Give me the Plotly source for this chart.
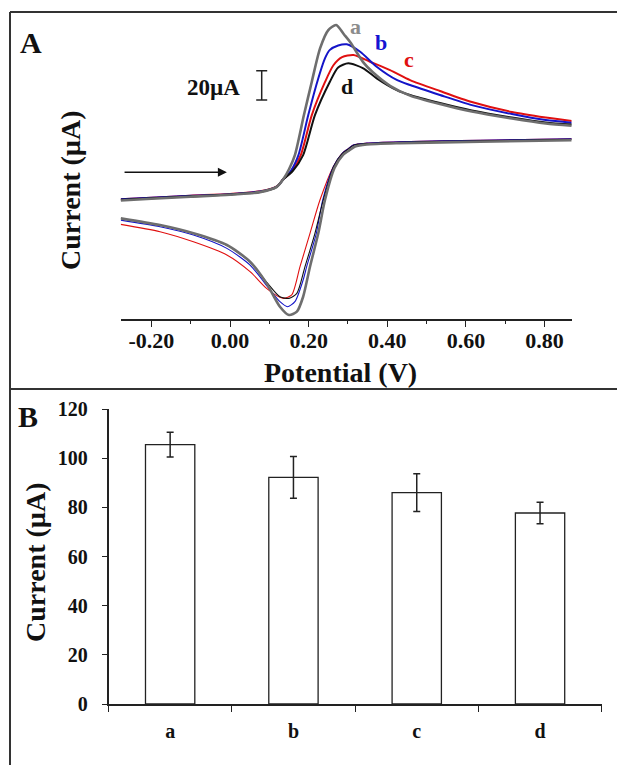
import plotly.graph_objects as go

# ---------------- Panel A data (potential in V, current in µA) ----------------
a_fwd_v = [-0.278, -0.20, -0.10, 0.00, 0.076, 0.119, 0.135, 0.150, 0.165, 0.188, 0.208, 0.229, 0.250, 0.270, 0.290, 0.305, 0.339, 0.364, 0.407, 0.458, 0.534, 0.615, 0.717, 0.803, 0.869]
a_fwd_i = [-0.3, 0.9, 2.3, 3.6, 5.4, 9.0, 14.0, 21.0, 30.7, 58.0, 80.8, 103.5, 116.0, 119.5, 113.0, 108.0, 94.0, 87.0, 78.0, 71.3, 65.5, 60.4, 55.6, 52.2, 50.7]
a_rev_v = [0.869, 0.636, 0.432, 0.348, 0.318, 0.300, 0.288, 0.266, 0.2415, 0.2245, 0.2034, 0.186, 0.170, 0.150, 0.127, 0.093, 0.051, -0.008, -0.093, -0.178, -0.278]
a_rev_i = [40.8, 39.8, 38.8, 37.9, 36.5, 33.3, 31.0, 22.0, 0.0, -22.7, -45.5, -66.0, -76.2, -78.5, -72.8, -56.9, -42.1, -30.7, -22.7, -17.1, -12.5]

b_fwd_v = [-0.278, -0.20, -0.10, 0.00, 0.076, 0.119, 0.135, 0.155, 0.174, 0.199, 0.222, 0.242, 0.254, 0.275, 0.297, 0.331, 0.373, 0.424, 0.458, 0.534, 0.615, 0.717, 0.803, 0.869]
b_fwd_i = [0.5, 1.5, 2.9, 4.0, 5.8, 9.2, 14.0, 20.0, 30.7, 58.0, 80.8, 97.0, 102.5, 105.5, 106.3, 101.2, 91.0, 82.0, 78.5, 71.7, 64.8, 58.7, 54.6, 52.8]
b_rev_v = [0.869, 0.636, 0.432, 0.348, 0.315, 0.297, 0.286, 0.263, 0.2357, 0.2195, 0.195, 0.186, 0.165, 0.146, 0.127, 0.102, 0.051, -0.008, -0.093, -0.178, -0.278]
b_rev_i = [41.8, 40.8, 39.8, 38.9, 37.7, 34.3, 32.1, 22.9, 0.0, -22.7, -45.5, -54.6, -69.4, -72.8, -69.4, -61.4, -44.4, -33.0, -23.9, -18.2, -13.7]

c_fwd_v = [-0.278, -0.20, -0.10, 0.00, 0.076, 0.119, 0.135, 0.158, 0.180, 0.208, 0.242, 0.263, 0.285, 0.314, 0.356, 0.407, 0.458, 0.534, 0.615, 0.717, 0.803, 0.869]
c_fwd_i = [0.6, 1.6, 3.0, 4.2, 6.0, 9.4, 14.0, 20.0, 30.7, 58.0, 80.8, 92.0, 97.5, 99.0, 94.4, 88.7, 81.9, 74.4, 66.9, 60.1, 56.3, 53.9]
c_rev_v = [0.869, 0.636, 0.432, 0.348, 0.315, 0.297, 0.286, 0.263, 0.2288, 0.2034, 0.178, 0.157, 0.137, 0.127, 0.093, 0.051, -0.008, -0.093, -0.178, -0.278]
c_rev_i = [41.8, 40.8, 39.8, 38.9, 37.7, 34.3, 32.1, 22.9, 0.0, -22.7, -45.5, -64.8, -67.1, -66.4, -60.3, -48.9, -37.5, -28.5, -21.6, -16.6]

d_fwd_v = [-0.278, -0.20, -0.10, 0.00, 0.076, 0.119, 0.135, 0.160, 0.186, 0.216, 0.254, 0.275, 0.301, 0.339, 0.373, 0.424, 0.458, 0.534, 0.615, 0.717, 0.803, 0.869]
d_fwd_i = [0.2, 1.2, 2.6, 3.8, 5.5, 9.0, 14.0, 20.0, 30.7, 58.0, 80.8, 90.5, 93.3, 89.9, 83.1, 75.1, 71.7, 66.2, 61.1, 56.3, 52.9, 51.5]
d_rev_v = [0.869, 0.636, 0.432, 0.348, 0.315, 0.297, 0.286, 0.263, 0.2372, 0.216, 0.1907, 0.170, 0.150, 0.127, 0.093, 0.051, -0.008, -0.093, -0.178, -0.278]
d_rev_i = [41.5, 40.5, 39.5, 38.6, 37.4, 34.0, 31.8, 22.6, 0.0, -22.7, -45.5, -63.7, -67.1, -66.0, -56.0, -42.3, -30.9, -22.9, -17.2, -12.6]

x_tick_vals = [-0.2, 0.0, 0.2, 0.4, 0.6, 0.8]
x_tick_text = ["-0.20", "0.00", "0.20", "0.40", "0.60", "0.80"]
x_minor_vals = [-0.1, 0.1, 0.3, 0.5, 0.7]

# curve labels (label, potential, current)
curve_labels = ["a", "b", "c", "d"]
label_v = [0.318, 0.384, 0.455, 0.297]
label_i = [118.8, 107.8, 95.6, 77.8]

scale_bar_v = 0.0806
scale_bar_i = [68.3, 88.3]   # 20 µA
scale_text = "20µA"
arrow_v = [-0.272, -0.008]
arrow_i = 18.9

# ---------------- Panel B data ----------------
bar_cats = ["a", "b", "c", "d"]
bar_vals = [105.5, 92.2, 86.0, 77.7]
bar_errs = [5.0, 8.5, 7.7, 4.4]
b_y_ticks = [0, 20, 40, 60, 80, 100, 120]

W, H = 617, 765
def px(x): return x / W
def py(y): return 1 - y / H

FONT = "Liberation Serif, Times New Roman, serif"
colors = {"a": "#6e6e6e", "b": "#1414c8", "c": "#e01010", "d": "#111111"}
label_colors = {"a": "#8c8c8c", "b": "#1414d2", "c": "#e01010", "d": "#111111"}

fig = go.Figure()

series = [
    ("c", c_fwd_v, c_fwd_i, c_rev_v, c_rev_i),
    ("b", b_fwd_v, b_fwd_i, b_rev_v, b_rev_i),
    ("d", d_fwd_v, d_fwd_i, d_rev_v, d_rev_i),
    ("a", a_fwd_v, a_fwd_i, a_rev_v, a_rev_i),
]
for name, fv, fi, rv, ri in series:
    wf = 2.6 if name == "a" else 2.0
    wr = 2.6 if name == "a" else 1.1
    fig.add_trace(go.Scatter(x=fv, y=fi, mode="lines", xaxis="x", yaxis="y",
                             line=dict(color=colors[name], width=wf, shape="spline", smoothing=0.7),
                             showlegend=False, hoverinfo="skip"))
    fig.add_trace(go.Scatter(x=rv, y=ri, mode="lines", xaxis="x", yaxis="y",
                             line=dict(color=colors[name], width=wr, shape="spline", smoothing=0.7),
                             showlegend=False, hoverinfo="skip"))

# Panel B bars
fig.add_trace(go.Bar(x=bar_cats, y=bar_vals, xaxis="x2", yaxis="y2", width=0.4,
                     marker=dict(color="white", line=dict(color="#222", width=1.3)),
                     error_y=dict(type="data", array=bar_errs, visible=True, color="#222",
                                  thickness=1.5, width=3.5),
                     showlegend=False, hoverinfo="skip"))

fig.update_layout(
    width=W, height=H, margin=dict(l=0, r=0, t=0, b=0, pad=0, autoexpand=False),
    paper_bgcolor="white", plot_bgcolor="white",
    font=dict(family=FONT, color="#111"),
    xaxis=dict(domain=[px(120.7), px(571.7)], range=[-0.278, 0.869], anchor="y", automargin=False,
               showline=True, linecolor="#222", linewidth=1.5, showgrid=False, zeroline=False,
               ticks="outside", ticklen=6, tickwidth=1.3, tickcolor="#222",
               tickmode="array", tickvals=x_tick_vals, ticktext=x_tick_text,
               tickfont=dict(family=FONT, size=22, weight="bold", color="#111"),
               ticklabelstandoff=-5,
               minor=dict(tickmode="array", tickvals=x_minor_vals, ticks="outside", ticklen=3,
                          tickwidth=1.2, tickcolor="#222", showgrid=False)),
    yaxis=dict(domain=[py(319), py(20)], range=[-81.2, 122.9], visible=False, anchor="x",
               automargin=False),
    xaxis2=dict(domain=[px(108.5), px(601.7)], range=[-0.5, 3.5], anchor="y2", automargin=False,
                showline=True, linecolor="#222", linewidth=1.5, showgrid=False, zeroline=False,
                ticks="outside", tickson="boundaries", ticklen=6, tickwidth=1.3, tickcolor="#222",
                tickfont=dict(family=FONT, size=20, weight="bold", color="#111"),
                ticklabelstandoff=8),
    yaxis2=dict(domain=[py(704), py(409)], range=[0, 120], anchor="x2", automargin=False,
                showline=True, linecolor="#222", linewidth=1.5, showgrid=False, zeroline=False,
                ticks="outside", ticklen=5, tickwidth=1.3, tickcolor="#222",
                tickvals=b_y_ticks,
                tickfont=dict(family=FONT, size=20, weight="bold", color="#111"),
                ticklabelstandoff=10),
)

shapes = [
    dict(type="line", xref="paper", yref="paper", x0=px(10), x1=1, y0=py(12), y1=py(12),
         line=dict(color="#333", width=2)),
    dict(type="line", xref="paper", yref="paper", x0=px(10), x1=px(10), y0=py(12), y1=0,
         line=dict(color="#333", width=2)),
    dict(type="line", xref="paper", yref="paper", x0=px(10), x1=1, y0=py(389), y1=py(389),
         line=dict(color="#333", width=2)),
    # 20 µA scale bar
    dict(type="line", xref="x", yref="y", x0=scale_bar_v, x1=scale_bar_v,
         y0=scale_bar_i[0], y1=scale_bar_i[1], line=dict(color="#222", width=1.5)),
]
cap = 0.014
for yv in scale_bar_i:
    shapes.append(dict(type="line", xref="x", yref="y", x0=scale_bar_v - cap, x1=scale_bar_v + cap,
                       y0=yv, y1=yv, line=dict(color="#222", width=1.5)))
fig.update_layout(shapes=shapes)

C = dict(xanchor="center", yanchor="middle", showarrow=False)
ann = []
ann.append(dict(text="<b>A</b>", x=px(31), y=py(42), xref="paper", yref="paper",
                font=dict(family=FONT, size=30, color="#111"), **C))
ann.append(dict(text="<b>B</b>", x=px(28), y=py(417), xref="paper", yref="paper",
                font=dict(family=FONT, size=30, color="#111"), **C))
ann.append(dict(text="<b>Potential (V)</b>", x=px(340), y=py(372), xref="paper", yref="paper",
                font=dict(family=FONT, size=28, color="#111"), **C))
ann.append(dict(text="<b>Current (µA)</b>", x=px(70), y=py(191), xref="paper", yref="paper",
                textangle=-90, font=dict(family=FONT, size=28, color="#111"), **C))
ann.append(dict(text="<b>Current (µA)</b>", x=px(35), y=py(563), xref="paper", yref="paper",
                textangle=-90, font=dict(family=FONT, size=28, color="#111"), **C))
for lab, lv, li in zip(curve_labels, label_v, label_i):
    ann.append(dict(text=f"<b>{lab}</b>", x=lv, y=li, xref="x", yref="y",
                    font=dict(family=FONT, size=22, color=label_colors[lab]), **C))
ann.append(dict(text=f"<b>{scale_text}</b>", x=-0.041, y=76.5, xref="x", yref="y",
                font=dict(family=FONT, size=23, color="#111"), **C))
ann.append(dict(text="", x=arrow_v[1], y=arrow_i, ax=arrow_v[0], ay=arrow_i, xref="x", yref="y",
                axref="x", ayref="y", showarrow=True, arrowhead=2, arrowsize=1.2, arrowwidth=1.5,
                arrowcolor="#111"))
fig.update_layout(annotations=ann)

fig.write_html("out.html", config={"displayModeBar": False},
               post_script="document.body.style.margin='0';document.body.style.padding='0';")
